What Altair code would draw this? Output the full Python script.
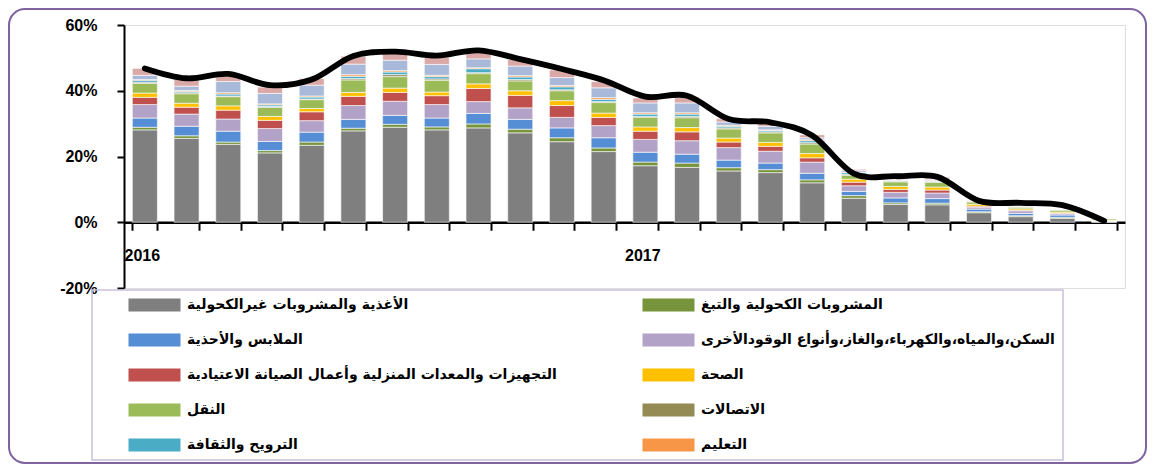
import altair as alt
import pandas as pd

months = [f"{y}-{m:02d}" for y in (2016, 2017) for m in range(1, 13)]

categories = [
    "الأغذية والمشروبات غيرالكحولية",
    "المشروبات الكحولية والتبغ",
    "الملابس والأحذية",
    "السكن،والمياه،والكهرباء،والغاز،وأنواع الوقودالأخرى",
    "التجهيزات والمعدات المنزلية وأعمال الصيانة الاعتيادية",
    "الصحة",
    "النقل",
    "الاتصالات",
    "الترويح والثقافة",
    "التعليم",
    "المطاعم والفنادق",
    "سلع وخدمات متنوعة",
]
colors = ["#7F7F7F", "#77933C", "#558ED5", "#B3A2C7", "#C0504D", "#FFC000",
          "#9BBB59", "#948A54", "#4BACC6", "#F79646", "#A8B9DA", "#DBA8A8"]

food = [28.1, 25.5, 23.7, 21.1, 23.4, 27.8, 28.9, 28.1, 28.7, 27.2, 24.5, 21.5,
        17.2, 16.7, 15.6, 15.1, 12.0, 7.3, 5.4, 5.3, 2.9, 1.7, 1.2, 0.1]
alcohol = [0.8, 0.8, 0.7, 0.7, 1.0, 0.8, 0.9, 0.9, 1.2, 1.1, 1.2, 1.1,
           1.1, 1.3, 1.0, 0.9, 0.9, 0.8, 0.5, 0.5, 0.3, 0.3, 0.3, 0.1]
clothing = [2.8, 2.9, 3.3, 2.8, 3.0, 2.7, 2.7, 2.7, 3.2, 3.0, 3.0, 3.1,
            3.0, 2.7, 2.3, 2.0, 2.0, 1.3, 1.5, 1.4, 0.8, 0.7, 0.7, 0.1]
housing = [4.1, 3.7, 3.7, 3.9, 3.5, 4.2, 4.3, 4.1, 3.6, 3.5, 3.2, 3.7,
           3.9, 4.1, 3.8, 3.6, 3.4, 1.7, 1.7, 1.7, 0.6, 0.8, 0.4, 0.1]
furnishings = [2.2, 2.1, 2.7, 2.5, 2.7, 2.8, 2.7, 2.7, 4.0, 3.8, 3.6, 2.5,
               2.5, 2.7, 1.7, 1.5, 1.3, 1.1, 0.9, 0.9, 0.3, 0.2, 0.2, 0.1]
health = [1.3, 1.2, 1.3, 1.2, 1.0, 1.2, 1.3, 1.1, 1.4, 1.4, 1.5, 1.3,
          1.3, 1.3, 1.2, 1.2, 1.3, 0.9, 0.9, 0.9, 0.6, 0.4, 0.3, 0.2]
transport = [2.9, 2.9, 2.8, 2.7, 2.7, 3.8, 3.5, 3.6, 3.1, 3.0, 3.0, 3.2,
             2.9, 3.0, 2.8, 2.9, 2.9, 1.2, 1.4, 1.4, 0.7, 0.5, 0.6, 0.4]
communication = [0.4, 0.3, 0.2, 0.3, 0.2, 0.4, 0.6, 0.4, 0.3, 0.4, 0.3, 0.3,
                 0.3, 0.4, 0.3, 0.3, 0.4, 0.3, 0.2, 0.3, 0.1, 0.1, 0.1, 0.1]
recreation = [0.6, 0.4, 0.6, 0.5, 0.6, 0.7, 0.8, 0.7, 1.2, 0.8, 0.9, 0.7,
              0.7, 0.7, 0.5, 0.4, 0.6, 0.5, 0.2, 0.2, 0.1, 0.1, 0.05, 0.0]
education = [0.2, 0.3, 0.4, 0.3, 0.3, 0.5, 0.4, 0.4, 0.3, 0.4, 0.4, 0.5,
             0.4, 0.4, 0.3, 0.2, 0.3, 0.1, 0.1, 0.2, 0.1, 0.1, 0.05, 0.0]
restaurants = [1.3, 1.3, 3.4, 3.2, 3.3, 3.2, 3.2, 3.3, 2.7, 2.9, 2.4, 3.0,
               3.0, 3.0, 1.0, 1.1, 0.6, 0.5, 0.2, 0.3, 0.1, 0.2, 0.05, 0.0]
misc = [2.1, 2.0, 1.6, 1.9, 2.0, 2.4, 2.2, 2.2, 2.0, 2.0, 2.3, 1.9,
        1.5, 1.6, 1.0, 0.8, 0.9, 0.4, 0.3, 0.6, 0.1, 0.1, 0.05, 0.0]

total_line = [46.8, 43.8, 45.1, 41.7, 43.4, 50.6, 51.9, 50.7, 52.3, 49.6, 46.6, 43.2,
              38.2, 38.5, 31.4, 30.4, 26.4, 14.8, 14.0, 13.8, 6.5, 5.9, 5.2, 0.4]

series = [food, alcohol, clothing, housing, furnishings, health, transport,
          communication, recreation, education, restaurants, misc]

rows = []
for ci, (cat, vals) in enumerate(zip(categories, series)):
    for m, v in zip(months, vals):
        rows.append({"month": m, "category": cat, "idx": ci, "value": v})
bars_df = pd.DataFrame(rows)
line_df = pd.DataFrame({"month": months, "total": total_line})

W, H = 1001, 263
step = W / 24

x_scale = alt.Scale(paddingInner=0.4, paddingOuter=0.2)
x_axis = alt.Axis(
    title="",
    labelExpr="datum.value == '2016-01' ? '2016' : (datum.value == '2017-01' ? '2017' : '')",
    labelAngle=0, labelAlign="left", labelOffset=-step / 2, labelBaseline="top",
    labelPadding=17, labelFont="Liberation Sans", labelFontSize=16,
    labelFontWeight="bold", labelColor="black",
    tickBand="extent", tickSize=8, tickWidth=2, tickColor="black",
    domainColor="black", domainWidth=2.5, offset=-H / 4, grid=False,
)
y_scale = alt.Scale(domain=[-20, 60], nice=False)
y_axis = alt.Axis(
    title="", values=[-20, 0, 20, 40, 60], labelExpr="datum.value + '%'",
    labelFont="Liberation Sans", labelFontSize=16, labelFontWeight="bold",
    labelColor="black", labelPadding=20, tickSize=7, tickWidth=2,
    tickColor="black", domainColor="black", domainWidth=2, grid=False,
)

bars = alt.Chart(bars_df).mark_bar(stroke="white", strokeWidth=0.6).encode(
    x=alt.X("month:O", sort=months, scale=x_scale, axis=x_axis),
    y=alt.Y("value:Q", stack="zero", scale=y_scale, axis=y_axis),
    color=alt.Color(
        "category:N",
        scale=alt.Scale(domain=categories, range=colors),
        legend=alt.Legend(
            values=categories[:10], title=" ", titleOrient="left",
            titleFontSize=8, titlePadding=28, direction="horizontal",
            orient="none", legendX=-32, legendY=265, columns=2,
            gridAlign="all", columnPadding=85, rowPadding=21,
            symbolType="M-1,-1H7V1H-1Z", symbolSize=169,
            symbolStrokeWidth=0, symbolOpacity=1,
            labelFont="DejaVu Sans", labelFontSize=14, labelFontWeight="bold",
            labelColor="black", labelLimit=700, labelOffset=45,
        ),
    ),
    order=alt.Order("idx:Q", sort="ascending"),
)

line = alt.Chart(line_df).mark_line(
    color="black", strokeWidth=5.8, interpolate="cardinal", strokeCap="round"
).encode(
    x=alt.X("month:O", sort=months, scale=x_scale, axis=x_axis),
    y=alt.Y("total:Q", scale=y_scale, axis=y_axis),
)

border = alt.Chart(pd.DataFrame({"a": [0]})).mark_rect(
    fill="transparent", stroke="#8064A2", strokeWidth=2, cornerRadius=16
).encode(
    x=alt.value(-115), x2=alt.value(1022), y=alt.value(-16), y2=alt.value(438)
)

chart = alt.layer(bars, line, border).properties(
    width=W, height=H, padding=0
).configure_view(strokeWidth=0).configure(
    background="white"
).configure_legend(strokeColor="#C9BFDC", strokeWidth=1.5, padding=8)

chart.save("out.html", embed_options={"renderer": "svg", "actions": False})
